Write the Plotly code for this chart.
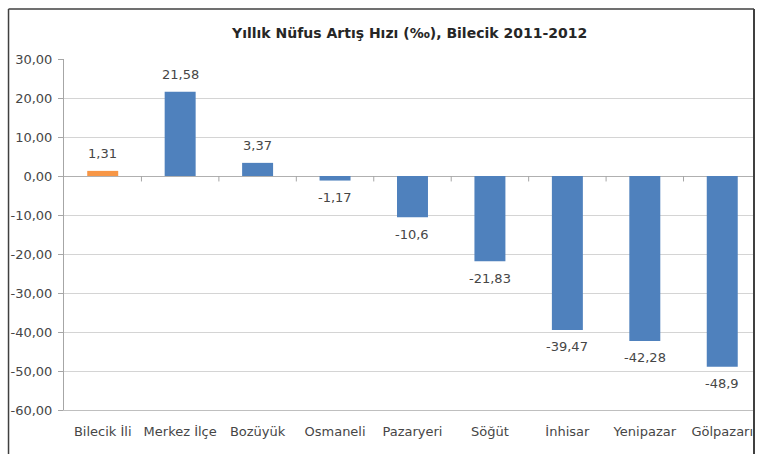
import plotly.graph_objects as go

categories = ["Bilecik İli", "Merkez İlçe", "Bozüyük", "Osmaneli", "Pazaryeri",
              "Söğüt", "İnhisar", "Yenipazar", "Gölpazarı"]
values = [1.31, 21.58, 3.37, -1.17, -10.6, -21.83, -39.47, -42.28, -48.9]
highlight = ["Bilecik İli"]
ytick_vals = [30, 20, 10, 0, -10, -20, -30, -40, -50, -60]
ytick_text = ["30,00", "20,00", "10,00", "0,00", "-10,00", "-20,00", "-30,00",
              "-40,00", "-50,00", "-60,00"]
title = "Yıllık Nüfus Artış Hızı (‰), Bilecik 2011-2012"

BLUE = "#4f81bd"
ORANGE = "#f79646"
colors = [ORANGE if c in highlight else BLUE for c in categories]
labels = [str(v).replace(".", ",") for v in values]

fig = go.Figure()
fig.add_trace(go.Bar(x=categories, y=values, marker=dict(color=colors, line=dict(width=0)),
                     width=0.4, hoverinfo="skip"))

font_family = "DejaVu Sans, sans-serif"
TEXT = "#464646"

annotations = []
for c, v, t in zip(categories, values, labels):
    annotations.append(dict(x=c, y=v, xref="x", yref="y", text=t, showarrow=False,
                            yanchor="middle", yshift=17 if v >= 0 else -17,
                            font=dict(family=font_family, size=13, color=TEXT)))
annotations.append(dict(x=0.5, y=1.0, xref="paper", yref="paper", text="<b>" + title + "</b>",
                        showarrow=False, xanchor="center", yanchor="middle", yshift=26,
                        font=dict(family=font_family, size=14, color="#262626")))

shapes = []
# category boundary ticks on the zero line
for i in range(len(categories) - 1):
    shapes.append(dict(type="line", xref="x", yref="y", x0=i + 0.5, x1=i + 0.5,
                       y0=0, y1=-1.4, line=dict(color="#a6a6a6", width=1)))
# chart frame
shapes.append(dict(type="line", xref="paper", yref="paper", x0=-0.0804, x1=-0.0804,
                   y0=1.1425, y1=-0.3, line=dict(color="#404040", width=1.5)))
shapes.append(dict(type="line", xref="paper", yref="paper", x0=-0.0804, x1=1.0,
                   y0=1.1425, y1=1.1425, line=dict(color="#404040", width=1.5)))
shapes.append(dict(type="line", xref="paper", yref="paper", x0=1.0, x1=1.0,
                   y0=1.1425, y1=-0.3, line=dict(color="#404040", width=2)))

fig.update_layout(
    width=757, height=454,
    margin=dict(l=63.5, r=3, t=59, b=44),
    paper_bgcolor="white", plot_bgcolor="white",
    showlegend=False,
    font=dict(family=font_family, size=13, color=TEXT),
    annotations=annotations,
    shapes=shapes,
    xaxis=dict(range=[-0.5, 8.41], showline=True, linecolor="#bfbfbf", linewidth=1,
               ticks="", showgrid=False, ticklabelstandoff=9,
               tickfont=dict(size=13, color=TEXT)),
    yaxis=dict(range=[-60, 30], tickvals=ytick_vals, ticktext=ytick_text,
               showline=True, linecolor="#a6a6a6", linewidth=1,
               ticks="outside", ticklen=5, tickcolor="#a6a6a6", ticklabelstandoff=3,
               showgrid=True, gridcolor="#d4d4d4", gridwidth=1.2,
               zeroline=True, zerolinecolor="#b0b0b0", zerolinewidth=1.2,
               tickfont=dict(size=13, color=TEXT)),
)

fig.write_html("out.html", post_script="document.body.style.margin='0';",
               config={"displayModeBar": False})
